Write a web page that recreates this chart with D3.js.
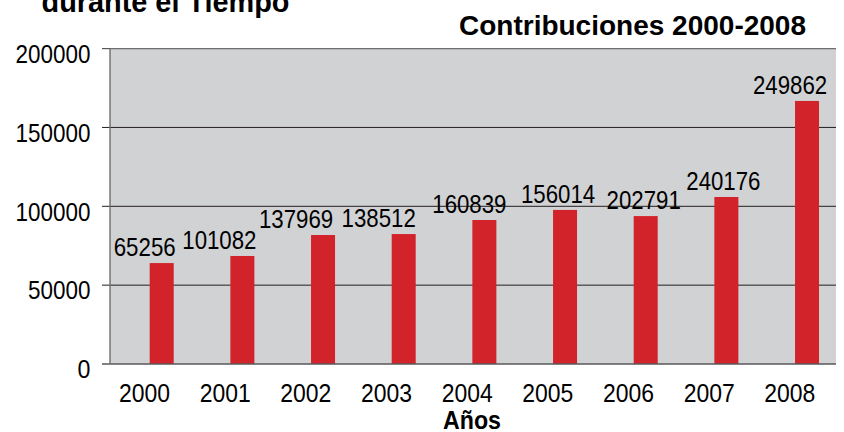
<!DOCTYPE html>
<html>
<head>
<meta charset="utf-8">
<script src="https://cdn.jsdelivr.net/npm/d3@7"></script>
<style>
  html, body { margin: 0; padding: 0; background: #ffffff; }
  svg { display: block; }
  text { font-family: "Liberation Sans", Arial, Helvetica, sans-serif; fill: #000; }
</style>
</head>
<body>
<svg id="chart" width="844" height="432"></svg>
<script>
// ---- data ----
const years = ["2000", "2001", "2002", "2003", "2004", "2005", "2006", "2007", "2008"];
const barValues = [64000, 68500, 81800, 82400, 91300, 97700, 93800, 105900, 166800];
const valueLabels = ["65256", "101082", "137969", "138512", "160839", "156014", "202791", "240176", "249862"];
const yTicks = [0, 50000, 100000, 150000, 200000];
const titleText = "Contribuciones 2000-2008";
const cutTitleText = "durante el Tiempo";
const xAxisTitle = "Años";
// label horizontal nudges relative to bar centre (layout)
const labelDx = [-17, -23, -27, -25, -15, -7, -2, -3, -17];

// ---- layout ----
const svg = d3.select("#chart");
const pLeft = 110, pRight = 836, pTop = 48.6, pBottom = 364;

const x = d3.scaleBand().domain(years).range([pLeft, pRight]);
const y = d3.scaleLinear().domain([0, 200000]).range([pBottom, pTop]);
const barOffset = 39.7, barWidth = 24, tickLabelOffset = 34.5;

// plot background
svg.append("rect")
  .attr("x", pLeft).attr("y", pTop)
  .attr("width", pRight - pLeft).attr("height", pBottom - pTop)
  .attr("fill", "#d1d2d4");

// top border
svg.append("line")
  .attr("x1", pLeft).attr("x2", pRight)
  .attr("y1", pTop).attr("y2", pTop)
  .attr("stroke", "#6d6e71").attr("stroke-width", 1.2);

// gridlines + tick marks
svg.selectAll(".grid").data(yTicks.filter(d => d > 0 && d < 200000)).enter()
  .append("line")
  .attr("x1", 102).attr("x2", pRight)
  .attr("y1", d => y(d)).attr("y2", d => y(d))
  .attr("stroke", "#231f20").attr("stroke-width", 1);

svg.append("line").attr("x1", 102).attr("x2", pLeft)
  .attr("y1", y(200000)).attr("y2", y(200000))
  .attr("stroke", "#58595b").attr("stroke-width", 1.2);

// bars
svg.selectAll(".bar").data(years).enter()
  .append("rect")
  .attr("x", (d) => x(d) + barOffset)
  .attr("width", barWidth)
  .attr("y", (d, i) => y(barValues[i]))
  .attr("height", (d, i) => y(0) - y(barValues[i]))
  .attr("fill", "#d2232a");

// baseline (x axis)
svg.append("line")
  .attr("x1", 102).attr("x2", pRight)
  .attr("y1", y(0)).attr("y2", y(0))
  .attr("stroke", "#58595b").attr("stroke-width", 1.4);

// left axis line
svg.append("line")
  .attr("x1", pLeft).attr("x2", pLeft)
  .attr("y1", pTop).attr("y2", pBottom)
  .attr("stroke", "#6d6e71").attr("stroke-width", 1.4);

// y tick labels
svg.selectAll(".ylab").data(yTicks).enter()
  .append("text")
  .attr("x", 90.5)
  .attr("y", d => y(d) + 14.3)
  .attr("text-anchor", "end")
  .attr("font-size", 25)
  .attr("textLength", d => String(d).length * 12.4 + 0.5)
  .attr("lengthAdjust", "spacingAndGlyphs")
  .text(d => d);

// x tick labels
svg.selectAll(".xlab").data(years).enter()
  .append("text")
  .attr("x", d => x(d) + tickLabelOffset)
  .attr("y", 401.5)
  .attr("text-anchor", "middle")
  .attr("font-size", 25.5)
  .attr("textLength", 51)
  .attr("lengthAdjust", "spacingAndGlyphs")
  .text(d => d);

// value labels
svg.selectAll(".vlab").data(years).enter()
  .append("text")
  .attr("x", (d, i) => x(d) + barOffset + barWidth / 2 + labelDx[i])
  .attr("y", (d, i) => y(barValues[i]) - 7)
  .attr("text-anchor", "middle")
  .attr("font-size", 25)
  .attr("textLength", (d, i) => valueLabels[i].length * 12.2 + 1)
  .attr("lengthAdjust", "spacingAndGlyphs")
  .text((d, i) => valueLabels[i]);

// title
svg.append("text")
  .attr("x", 459).attr("y", 34.5)
  .attr("font-size", 28).attr("font-weight", "bold")
  .attr("textLength", 347)
  .attr("lengthAdjust", "spacingAndGlyphs")
  .text(titleText);

// cut-off title at top
svg.append("text")
  .attr("x", 41.5).attr("y", 12)
  .attr("font-size", 29).attr("font-weight", "bold")
  .attr("fill", "#231f20")
  .attr("textLength", 248)
  .attr("lengthAdjust", "spacingAndGlyphs")
  .text(cutTitleText);

// x axis title
svg.append("text")
  .attr("x", 443).attr("y", 428.5)
  .attr("font-size", 25).attr("font-weight", "bold")
  .attr("textLength", 58)
  .attr("lengthAdjust", "spacingAndGlyphs")
  .text(xAxisTitle);
</script>
</body>
</html>
